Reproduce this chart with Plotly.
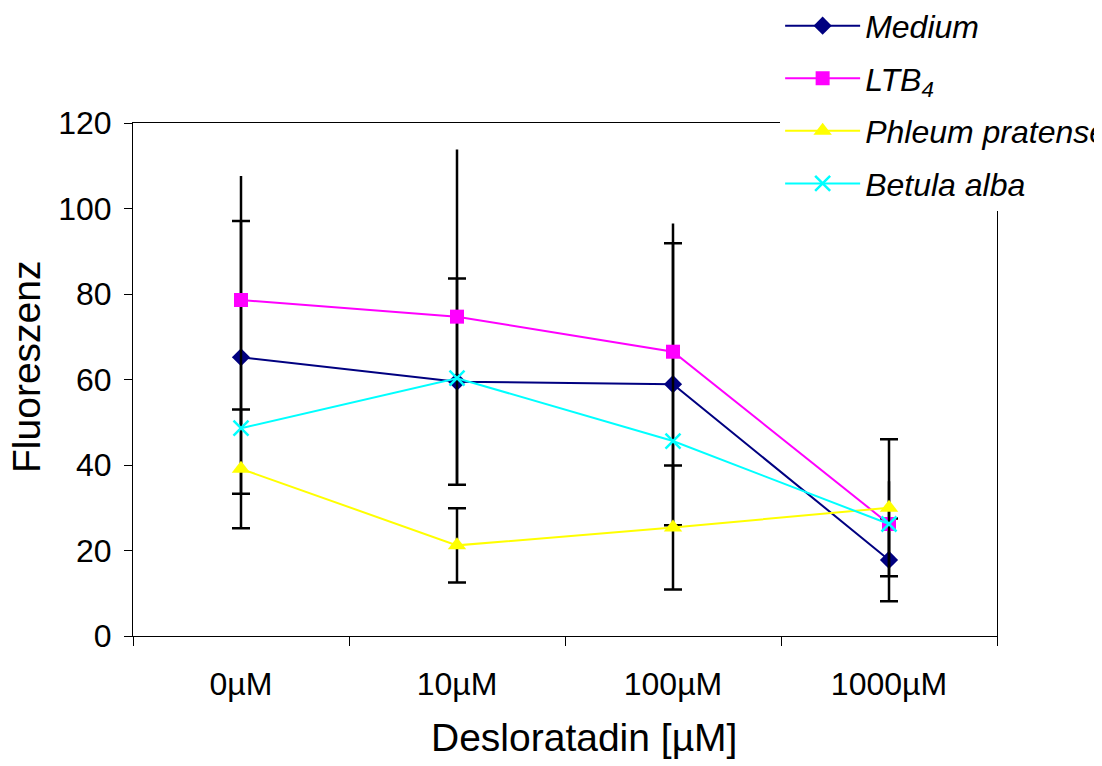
import plotly.graph_objects as go

categories = ["0µM", "10µM", "100µM", "1000µM"]

medium = [65.2, 59.5, 58.9, 17.8]
medium_err = [31.9, 24.1, 33.0, 9.7]

ltb4 = [78.6, 74.7, 66.5, 26.2]
ltb4_err = [29.0, 39.1, 30.0, 10.0]

phleum = [39.1, 21.2, 25.4, 30.0]
phleum_err = [13.9, 8.7, 14.5, 16.0]

betula = [48.6, 60.3, 45.6, 26.2]

y_ticks = [0, 20, 40, 60, 80, 100, 120]

FONT = "Liberation Sans, Arial, sans-serif"

fig = go.Figure()

fig.add_trace(go.Scatter(
    x=categories, y=medium, name="<i>Medium</i>", mode="lines+markers",
    line=dict(color="#000080", width=2),
    marker=dict(symbol="diamond", size=14, color="#000080"),
    error_y=dict(type="data", array=medium_err, color="black", thickness=2.5, width=9),
    legendgroup="a",
))
fig.add_trace(go.Scatter(
    x=categories, y=ltb4, name="<i>LTB<sub>4</sub></i>", mode="lines+markers",
    line=dict(color="#FF00FF", width=2),
    marker=dict(symbol="square", size=14, color="#FF00FF"),
    error_y=dict(type="data", array=ltb4_err, color="black", thickness=2.5, width=0),
    legendgroup="b",
))
fig.add_trace(go.Scatter(
    x=categories, y=phleum, name="<i>Phleum pratense</i>", mode="lines+markers",
    line=dict(color="#FFFF00", width=2),
    marker=dict(symbol="triangle-up", size=16, color="#FFFF00"),
    error_y=dict(type="data", array=phleum_err, color="black", thickness=2.5, width=9),
    legendgroup="c",
))
fig.add_trace(go.Scatter(
    x=categories, y=betula, name="<i>Betula alba</i>", mode="lines+markers",
    line=dict(color="#00FFFF", width=2),
    marker=dict(symbol="x-thin", size=15, color="#00FFFF",
                line=dict(color="#00FFFF", width=2.5)),
    legendgroup="d",
))

fig.update_layout(
    width=1094, height=758,
    paper_bgcolor="white", plot_bgcolor="white",
    font=dict(family=FONT, color="black", size=32),
    margin=dict(l=125, r=105, t=115, b=130, autoexpand=False),
    showlegend=True,
    legend=dict(
        x=0.749, y=1.243, xanchor="left", yanchor="top",
        bgcolor="white", borderwidth=0,
        font=dict(family=FONT, size=32, color="black"),
        traceorder="grouped", tracegroupgap=8,
        itemwidth=75,
    ),
    xaxis=dict(
        type="category", range=[-0.5, 3.5],
        tickson="boundaries", ticks="outside", ticklen=9, tickcolor="black",
        showline=True, linecolor="black", linewidth=1, mirror=True,
        showgrid=False, zeroline=False,
        tickfont=dict(family=FONT, size=32),
        ticklabelstandoff=20,
    ),
    yaxis=dict(
        range=[0, 120], tickvals=y_ticks,
        ticks="outside", ticklen=8, tickcolor="black",
        showline=True, linecolor="black", linewidth=1, mirror=True,
        showgrid=False, zeroline=False,
        tickfont=dict(family=FONT, size=32),
        ticklabelstandoff=6,
    ),
    annotations=[
        dict(text="Desloratadin [µM]", xref="paper", yref="paper",
             x=0.522, y=-0.1988, xanchor="center", yanchor="middle",
             showarrow=False, font=dict(family=FONT, size=39)),
        dict(text="Fluoreszenz", xref="paper", yref="paper",
             x=-0.1227, y=0.5244, xanchor="center", yanchor="middle",
             textangle=-90, showarrow=False, font=dict(family=FONT, size=39)),
    ],
)

fig.write_html("out.html")
